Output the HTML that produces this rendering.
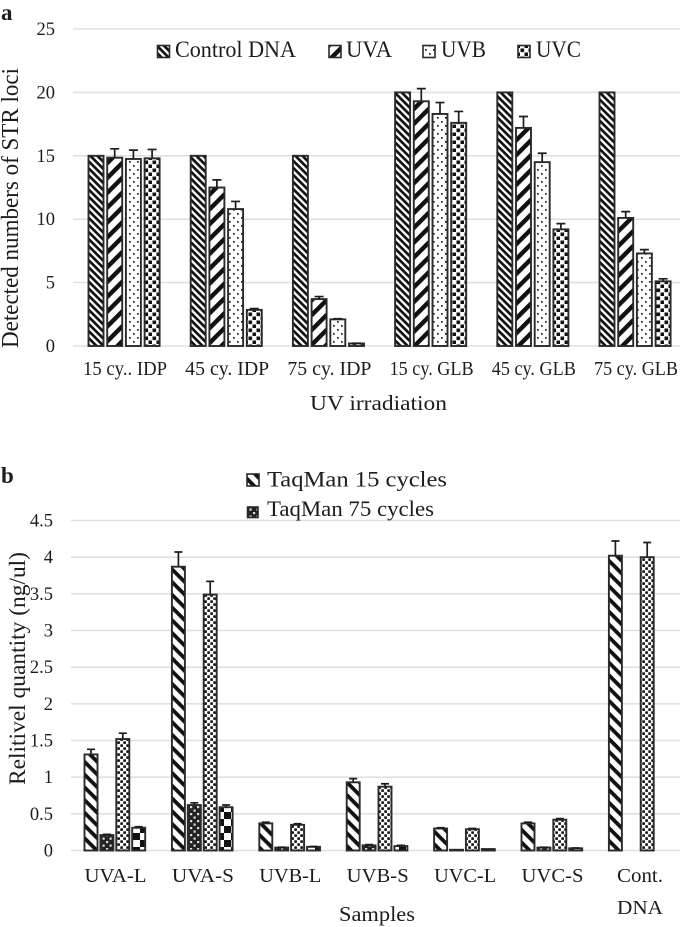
<!DOCTYPE html>
<html>
<head>
<meta charset="utf-8">
<style>
html,body{margin:0;padding:0;background:#fff}
svg{display:block}
text{font-family:"Liberation Serif","DejaVu Serif",serif;fill:#1c1c1c}
</style>
</head>
<body>
<svg id="fig" xmlns="http://www.w3.org/2000/svg" width="685" height="927" viewBox="0 0 685 927">
<defs>
<pattern id="p-fine" patternUnits="userSpaceOnUse" width="5" height="5" patternTransform="rotate(45)"><rect width="5" height="5" fill="#fff"/><rect width="5" height="2.7" fill="#111"/></pattern>
<pattern id="p-wide" patternUnits="userSpaceOnUse" width="10.5" height="10.5" patternTransform="rotate(-45)"><rect width="10.5" height="10.5" fill="#fff"/><rect width="10.5" height="4.4" fill="#111"/></pattern>
<pattern id="p-sparse" patternUnits="userSpaceOnUse" width="8" height="8"><rect width="8" height="8" fill="#fff"/><rect x="1" y="1" width="1.7" height="1.7" fill="#222"/><rect x="5" y="5" width="1.7" height="1.7" fill="#222"/></pattern>
<pattern id="p-dense" patternUnits="userSpaceOnUse" width="8" height="8"><rect width="8" height="8" fill="#fff"/><rect x="0.5" y="0.5" width="3.6" height="3.6" fill="#111"/><rect x="4.5" y="4.5" width="3.6" height="3.6" fill="#111"/></pattern>
<pattern id="p-wide-back" patternUnits="userSpaceOnUse" width="9" height="9" patternTransform="rotate(45)"><rect width="9" height="9" fill="#fff"/><rect width="9" height="3.8" fill="#111"/></pattern>
<pattern id="p-weave" patternUnits="userSpaceOnUse" width="7" height="7"><rect width="7" height="7" fill="#222"/><rect x="1" y="1" width="2.2" height="2.2" fill="#ddd"/><rect x="4.5" y="4.5" width="2.2" height="2.2" fill="#ddd"/></pattern>
<pattern id="p-dots" patternUnits="userSpaceOnUse" width="6" height="6"><rect width="6" height="6" fill="#fff"/><rect x="0.3" y="0.3" width="2.6" height="2.6" fill="#111"/><rect x="3.3" y="3.3" width="2.6" height="2.6" fill="#111"/></pattern>
<pattern id="p-check" patternUnits="userSpaceOnUse" width="14" height="14"><rect width="14" height="14" fill="#fff"/><rect width="7" height="7" fill="#111"/><rect x="7" y="7" width="7" height="7" fill="#111"/></pattern>
</defs>
<g id="root"></g>
</svg>
<script>
// Panel a data
const aCategories = ["15 cy.. IDP", "45 cy. IDP", "75 cy. IDP", "15 cy. GLB", "45 cy. GLB", "75 cy. GLB"];
const aTicks = [0, 5, 10, 15, 20, 25];
const aControl = [15, 15, 15, 20, 20, 20];
const aUVA = [14.85, 12.5, 3.7, 19.3, 17.2, 10.1];
const aUVB = [14.75, 10.8, 2.1, 18.3, 14.5, 7.3];
const aUVC = [14.8, 2.85, 0.2, 17.6, 9.2, 5.1];
const aUVAErr = [0.7, 0.6, 0.2, 1.0, 0.9, 0.5];
const aUVBErr = [0.7, 0.6, 0.05, 0.9, 0.7, 0.3];
const aUVCErr = [0.7, 0.1, 0.02, 0.9, 0.45, 0.2];
// Panel b data
const bCategories = ["UVA-L", "UVA-S", "UVB-L", "UVB-S", "UVC-L", "UVC-S"];
const bTicks = [0, 0.5, 1, 1.5, 2, 2.5, 3, 3.5, 4, 4.5];
const bL15 = [1.31, 3.87, 0.37, 0.93, 0.3, 0.37, 4.02];
const bL75 = [0.21, 0.62, 0.04, 0.07, 0.01, 0.04, 0];
const bS15 = [1.52, 3.49, 0.35, 0.87, 0.29, 0.42, 4.0];
const bS75 = [0.31, 0.59, 0.05, 0.06, 0.02, 0.03, 0];
const bL15Err = [0.07, 0.2, 0.015, 0.05, 0.01, 0.015, 0.2];
const bL75Err = [0.01, 0.03, 0.005, 0.01, 0, 0.005, 0];
const bS15Err = [0.08, 0.18, 0.015, 0.04, 0.01, 0.015, 0.2];
const bS75Err = [0.015, 0.03, 0.005, 0.01, 0, 0.005, 0];

const NS = "http://www.w3.org/2000/svg";
const root = document.getElementById("root");
function mk(tag, attrs, parent) {
  const el = document.createElementNS(NS, tag);
  for (const k in attrs) el.setAttribute(k, attrs[k]);
  (parent || root).appendChild(el);
  return el;
}
function label(str, x, y, size, anchor, width, name, weight, rotate) {
  const attrs = { x: x, y: y, "font-size": size, "text-anchor": anchor || "start" };
  if (width) { attrs.textLength = width; attrs.lengthAdjust = "spacingAndGlyphs"; }
  if (weight) attrs["font-weight"] = weight;
  if (rotate) attrs.transform = "rotate(-90 " + x + " " + y + ")";
  const el = mk("text", attrs);
  el.textContent = str;
  
  
  return el;
}
function gridline(x1, x2, y) {
  const el = mk("line", { x1: x1, x2: x2, y1: y, y2: y, stroke: "#e0e0e0", "stroke-width": 1.6 });
  
  
}
function bar(x, w, value, y, pat, name) {
  const top = y(value), base = y(0);
  const el = mk("rect", { x: x, y: top, width: w, height: Math.max(base - top, 0), fill: "url(#" + pat + ")", stroke: "#2a2a2a", "stroke-width": 1.9 });
  
  
}
function errorBar(cx, value, err, y, cap) {
  if (!(err > 0)) return;
  const el = mk("path", { d: "M" + cx + " " + y(value) + "V" + y(value + err) + "M" + (cx - cap) + " " + y(value + err) + "H" + (cx + cap), stroke: "#1c1c1c", "stroke-width": 1.7, fill: "none" });
  
  
}
function swatch(x, y, s, pat, name) {
  const el = mk("rect", { x: x, y: y, width: s, height: s, fill: "url(#" + pat + ")", stroke: "#2a2a2a", "stroke-width": 1.6 });
  
  
}

/* ---------- panel a ---------- */
const aY = v => 346 - v * (346 - 29) / 25;
const aX = (g, s) => 88.5 + g * 102.2 + s * 18.7;
label("a", 1, 20, 23, "start", 0, "panel-a-label", "bold");
aTicks.forEach(t => {
  gridline(73, 680, aY(t));
  label(String(t), 55, aY(t) + 6, 18.5, "end", 0, "y-tick-a");
});
const aSeries = [
  { v: aControl, e: null, p: "p-fine", n: "bar-control-dna" },
  { v: aUVA, e: aUVAErr, p: "p-wide", n: "bar-uva" },
  { v: aUVB, e: aUVBErr, p: "p-sparse", n: "bar-uvb" },
  { v: aUVC, e: aUVCErr, p: "p-dense", n: "bar-uvc" }
];
aSeries.forEach((s, si) => {
  s.v.forEach((val, g) => {
    const x = aX(g, si);
    bar(x, 15, val, aY, s.p, s.n);
    if (s.e) errorBar(x + 7.5, val, s.e[g], aY, 4.5);
  });
});
aCategories.forEach((c, g) => {
  label(c, aX(g, 0) + 36.5, 375, 19.5, "middle", 84, "x-tick-a");
});
label("Detected numbers of STR loci", 18, 348, 24, "start", 280, "y-axis-title-a", "", true);
label("UV irradiation", 378.5, 410, 21.5, "middle", 137, "x-axis-title-a");
swatch(157.5, 45.5, 12, "p-fine", "legend-swatch-control-dna");
label("Control DNA", 175, 57, 23.5, "start", 121, "legend-control-dna");
swatch(329, 45.5, 12, "p-wide", "legend-swatch-uva");
label("UVA", 346, 57, 23.5, "start", 46, "legend-uva");
swatch(423, 45.5, 12, "p-sparse", "legend-swatch-uvb");
label("UVB", 441, 57, 23.5, "start", 45, "legend-uvb");
swatch(518, 45.5, 12, "p-dense", "legend-swatch-uvc");
label("UVC", 536, 57, 23.5, "start", 45, "legend-uvc");

/* ---------- panel b ---------- */
const bY = v => 850.5 - v * (850.5 - 520.5) / 4.5;
const bX = (g, s) => 84.5 + g * 87.4 + s * 15.9;
label("b", 1, 483, 23, "start", 0, "panel-b-label", "bold");
bTicks.forEach(t => {
  gridline(71, 680, bY(t));
  label(String(t), 53, bY(t) + 6, 18.5, "end", 0, "y-tick-b");
});
const bSeries = [
  { v: bL15, e: bL15Err, p: "p-wide-back", n: "bar-taqman-15-long" },
  { v: bL75, e: bL75Err, p: "p-weave", n: "bar-taqman-75-long" },
  { v: bS15, e: bS15Err, p: "p-dots", n: "bar-taqman-15-short" },
  { v: bS75, e: bS75Err, p: "p-check", n: "bar-taqman-75-short" }
];
bSeries.forEach((s, si) => {
  s.v.forEach((val, g) => {
    if (val <= 0) return;
    const x = bX(g, si);
    bar(x, 13, val, bY, s.p, s.n);
    errorBar(x + 6.5, val, s.e[g], bY, 4);
  });
});
bCategories.forEach((c, g) => {
  label(c, bX(g, 0) + 31, 882, 20.5, "middle", 62, "x-tick-b");
});
label("Cont.", 640, 882, 20, "middle", 46, "x-tick-b");
label("DNA", 640, 914, 20.5, "middle", 46, "x-tick-b");
label("Relitivel quantity (ng/ul)", 25, 785, 23.5, "start", 233, "y-axis-title-b", "", true);
label("Samples", 377, 921, 21, "middle", 76, "x-axis-title-b");
swatch(247, 474, 12, "p-wide-back", "legend-swatch-taqman-15");
label("TaqMan 15 cycles", 267, 486.5, 22.5, "start", 180, "legend-taqman-15");
swatch(247.5, 507, 10.5, "p-weave", "legend-swatch-taqman-75");
label("TaqMan 75 cycles", 267, 516, 22.5, "start", 167, "legend-taqman-75");
</script>
</body>
</html>
